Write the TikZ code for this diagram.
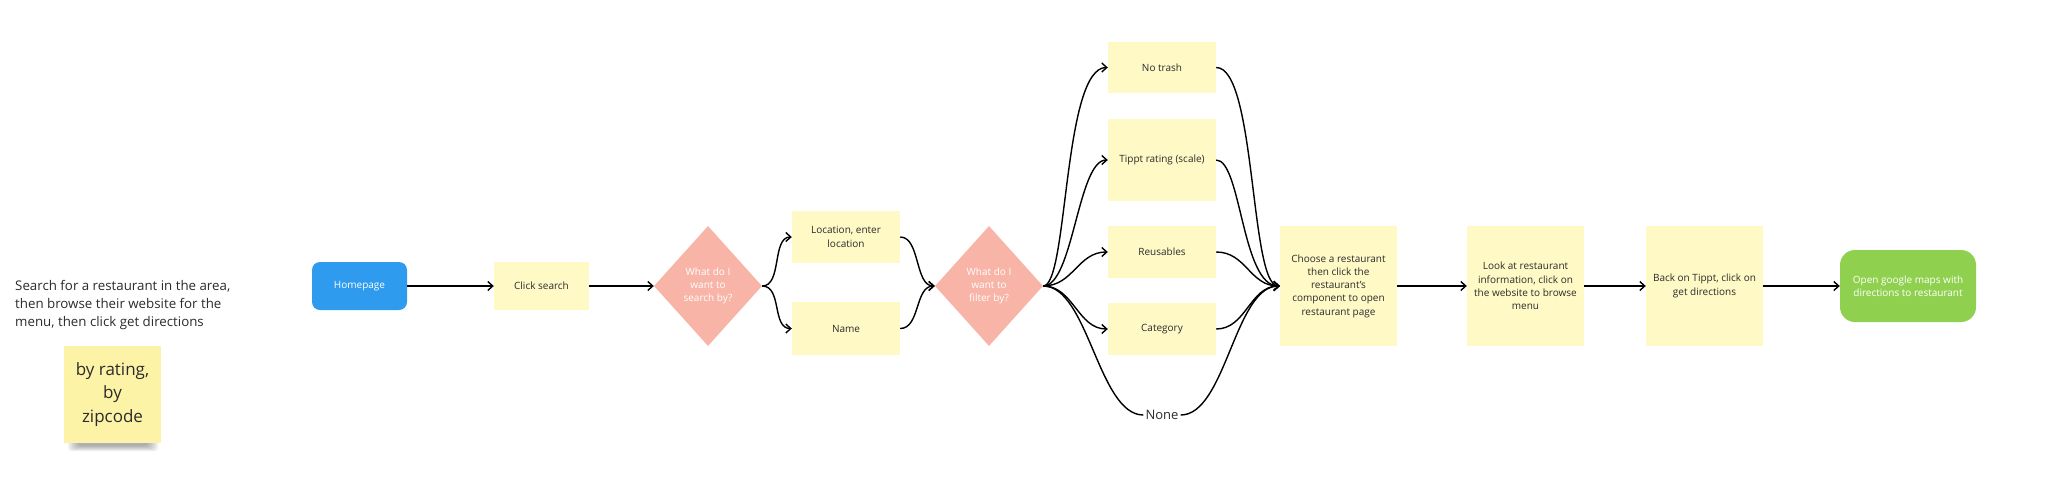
\documentclass[tikz,border=0pt]{standalone}
\usepackage{fontspec}
\setmainfont{Open Sans}
\usetikzlibrary{shapes.geometric,arrows.meta}
\definecolor{sticky}{HTML}{FFF9C6}
\definecolor{stickyb}{HTML}{FDF3A6}
\definecolor{hblue}{HTML}{2F9BEF}
\definecolor{dpink}{HTML}{F8B4A7}
\definecolor{ggreen}{HTML}{8FD14F}
\definecolor{ink}{HTML}{2B2B2B}
\begin{document}
\begin{tikzpicture}[x=1pt,y=-1pt,
  ybox/.style={rectangle,fill=sticky,inner sep=0pt,align=center,text=ink,font=\fontsize{10}{13.3}\selectfont},
  dia/.style={diamond,fill=dpink,inner sep=0pt,minimum width=108pt,minimum height=120pt,align=center,text=white,font=\fontsize{10}{13.3}\selectfont},
  term/.style={rectangle,inner sep=0pt,align=center,text=white,font=\fontsize{10}{13.3}\selectfont},
  flow/.style={line width=1.4pt,-{Straight Barb[length=5pt,width=9pt]}},
  link/.style={line width=1.4pt}]
\fill[white] (0,0) rectangle (2048,488);
\useasboundingbox (0,0) rectangle (2048,488);

% left description
\node[anchor=west,align=left,inner sep=0pt,text=ink,font=\fontsize{13.3}{18}\selectfont] (desc) at (15,305)
  {Search for a restaurant in the area,\\then browse their website for the\\menu, then click get directions};

% sticky note with shadow
\foreach \k in {0,...,5}
  \fill[black,opacity=0.06,rounded corners=3pt] (68+2*\k,400) rectangle (158-2*\k,451-\k);
\node[rectangle,fill=stickyb,inner sep=0pt,minimum width=97pt,minimum height=97pt,align=center,text=ink,
  font=\fontsize{17}{23.3}\selectfont] (note) at (112.5,394.5) {by rating,\\by\\zipcode};

% main flow
\node[term,fill=hblue,rounded corners=8pt,minimum width=95pt,minimum height=48pt] (home) at (359.5,286) {Homepage};
\node[ybox,minimum width=95pt,minimum height=48pt] (click) at (541.5,286) {Click search};
\node[dia] (d1) at (708,286) {What do I\\want to\\search by?};
\node[ybox,minimum width=108pt,minimum height=52pt] (loc) at (846,237) {Location, enter\\location};
\node[ybox,minimum width=108pt,minimum height=53pt] (name) at (846,328.5) {Name};
\node[dia] (d2) at (989,286) {What do I\\want to\\filter by?};

\node[ybox,minimum width=108pt,minimum height=51pt] (notrash) at (1162,67.5) {No trash};
\node[ybox,minimum width=108pt,minimum height=82pt] (tippt) at (1162,160) {Tippt rating (scale)};
\node[ybox,minimum width=108pt,minimum height=52pt] (reus) at (1162,252) {Reusables};
\node[ybox,minimum width=108pt,minimum height=52pt] (cat) at (1162,329) {Category};
\node[inner sep=2pt,text=ink,font=\fontsize{13}{16}\selectfont] (none) at (1162,415) {None};

\node[ybox,minimum width=117pt,minimum height=120pt] (choose) at (1338.5,286)
  {Choose a restaurant\\then click the\\restaurant's\\component to open\\restaurant page};
\node[ybox,minimum width=117pt,minimum height=120pt] (look) at (1525.5,286)
  {Look at restaurant\\information, click on\\the website to browse\\menu};
\node[ybox,minimum width=117pt,minimum height=120pt] (back) at (1704.5,286)
  {Back on Tippt, click on\\get directions};
\node[term,fill=ggreen,rounded corners=15pt,minimum width=136pt,minimum height=72pt] (green) at (1908,286)
  {Open google maps with\\directions to restaurant};

% connectors
\draw[flow] (home.east) -- (click.west);
\draw[flow] (click.east) -- (d1.west);
\draw[flow] (d1.east) .. controls +(20,0) and +(-20,0) .. (loc.west);
\draw[flow] (d1.east) .. controls +(20,0) and +(-20,0) .. (name.west);
\draw[flow] (loc.east) .. controls +(20,0) and +(-20,0) .. (d2.west);
\draw[flow] (name.east) .. controls +(20,0) and +(-20,0) .. (d2.west);

\draw[flow] (d2.east) .. controls +(25,0) and +(-45,0) .. (notrash.west);
\draw[flow] (d2.east) .. controls +(30,0) and +(-30,0) .. (tippt.west);
\draw[flow] (d2.east) .. controls +(30,0) and +(-30,0) .. (reus.west);
\draw[flow] (d2.east) .. controls +(30,0) and +(-30,0) .. (cat.west);
\draw[link] (d2.east) .. controls +(45,0) and +(-45,0) .. (none.west);

\draw[flow] (notrash.east) .. controls +(40,0) and +(-30,0) .. (choose.west);
\draw[flow] (tippt.east) .. controls +(25,0) and +(-38,0) .. (choose.west);
\draw[flow] (reus.east) .. controls +(30,0) and +(-30,0) .. (choose.west);
\draw[flow] (cat.east) .. controls +(30,0) and +(-30,0) .. (choose.west);
\draw[flow] (none.east) .. controls +(45,0) and +(-45,0) .. (choose.west);

\draw[flow] (choose.east) -- (look.west);
\draw[flow] (look.east) -- (back.west);
\draw[flow] (back.east) -- (green.west);
\end{tikzpicture}
\end{document}
